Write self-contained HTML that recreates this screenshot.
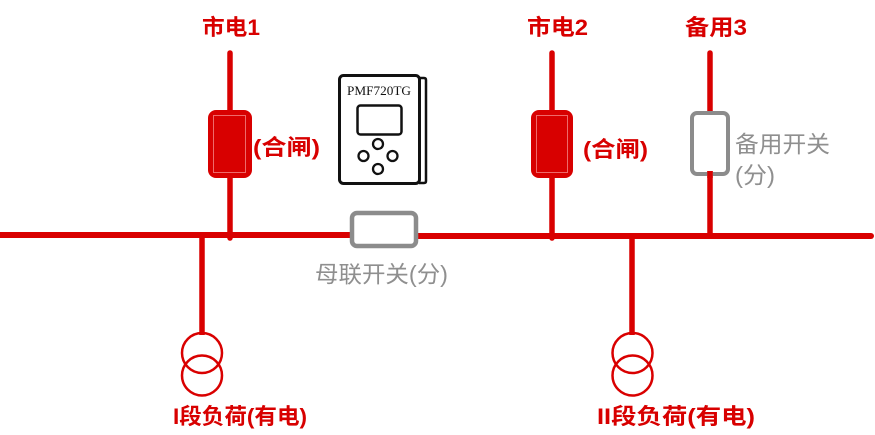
<!DOCTYPE html>
<html>
<head>
<meta charset="utf-8">
<style>
html,body{margin:0;padding:0;background:#fff;}
svg{display:block;}
.r{font-family:"Liberation Sans","Noto Sans CJK SC",sans-serif;font-weight:bold;fill:#d80000;font-size:22px;}
.g{font-family:"Liberation Sans","Noto Sans CJK SC",sans-serif;font-weight:normal;fill:#8f8f8f;font-size:23px;}
</style>
</head>
<body>
<svg width="875" height="435" viewBox="0 0 875 435" xmlns="http://www.w3.org/2000/svg">
  <!-- bus bars -->
  <line x1="0" y1="235" x2="354" y2="235" stroke="#d90000" stroke-width="6"/>
  <line x1="417" y1="236" x2="871" y2="236" stroke="#d90000" stroke-width="6" stroke-linecap="round"/>

  <!-- feeder verticals -->
  <line x1="230" y1="53" x2="230" y2="238" stroke="#d90000" stroke-width="5.5" stroke-linecap="round"/>
  <line x1="552" y1="53" x2="552" y2="238" stroke="#d90000" stroke-width="5.5" stroke-linecap="round"/>
  <line x1="710" y1="53" x2="710" y2="112" stroke="#d90000" stroke-width="5.5" stroke-linecap="round"/>
  <line x1="710" y1="171" x2="710" y2="238" stroke="#d90000" stroke-width="5.5"/>

  <!-- load branches -->
  <line x1="202" y1="236" x2="202" y2="335" stroke="#d90000" stroke-width="5.5"/>
  <line x1="632" y1="237" x2="632" y2="335" stroke="#d90000" stroke-width="5.5"/>

  <!-- transformers -->
  <circle cx="202" cy="353" r="20" fill="none" stroke="#d90000" stroke-width="2.5"/>
  <circle cx="202" cy="375.5" r="20" fill="none" stroke="#d90000" stroke-width="2.5"/>
  <circle cx="632.5" cy="353" r="20" fill="none" stroke="#d90000" stroke-width="2.5"/>
  <circle cx="632.5" cy="375.5" r="20" fill="none" stroke="#d90000" stroke-width="2.5"/>

  <!-- breakers (closed, red) -->
  <rect x="208" y="110" width="44" height="68" rx="8" fill="#d80000"/>
  <rect x="213.5" y="115.5" width="32" height="57" fill="none" stroke="#ee6a6a" stroke-width="1"/>
  <rect x="531" y="110" width="42" height="68" rx="8" fill="#d80000"/>
  <rect x="536.5" y="115.5" width="31" height="57" fill="none" stroke="#ee6a6a" stroke-width="1"/>

  <!-- standby switch (open, gray) -->
  <rect x="692" y="113" width="36" height="61" rx="5" fill="none" stroke="#8c8c8c" stroke-width="4"/>
  <line x1="710" y1="171" x2="710" y2="178" stroke="#d90000" stroke-width="5.5"/>

  <!-- bus coupler (open, gray) -->
  <rect x="352" y="213" width="64" height="33" rx="5" fill="#fff" stroke="#8c8c8c" stroke-width="4.5"/>

  <!-- PMF720TG device -->
  <path d="M419 78 L424 78 Q426 78 426 80 L426 181 Q426 183 424 183 L419 183" fill="none" stroke="#111" stroke-width="2.5"/>
  <rect x="339.5" y="75.5" width="80" height="108" rx="4" fill="#fff" stroke="#111" stroke-width="3"/>
  <text x="347" y="95" font-family="Liberation Serif, serif" font-size="13" fill="#111" textLength="64" lengthAdjust="spacingAndGlyphs">PMF720TG</text>
  <rect x="357.5" y="105.5" width="44" height="29" rx="3" fill="none" stroke="#111" stroke-width="2.5"/>
  <circle cx="378" cy="144" r="5" fill="none" stroke="#111" stroke-width="2.3"/>
  <circle cx="363.5" cy="156" r="5" fill="none" stroke="#111" stroke-width="2.3"/>
  <circle cx="392.5" cy="156" r="5" fill="none" stroke="#111" stroke-width="2.3"/>
  <circle cx="378" cy="169" r="5" fill="none" stroke="#111" stroke-width="2.3"/>

  <!-- labels -->
  <text class="r" x="202" y="35" textLength="58" lengthAdjust="spacingAndGlyphs">市电1</text>
  <text class="r" x="527" y="35" textLength="61" lengthAdjust="spacingAndGlyphs">市电2</text>
  <text class="r" x="685" y="35" textLength="62" lengthAdjust="spacingAndGlyphs">备用3</text>
  <text class="r" x="253" y="155" textLength="67" lengthAdjust="spacingAndGlyphs">(合闸)</text>
  <text class="r" x="583" y="157" textLength="65" lengthAdjust="spacingAndGlyphs">(合闸)</text>
  <text class="g" x="735" y="152" textLength="95" lengthAdjust="spacingAndGlyphs">备用开关</text>
  <text class="g" x="735" y="183" textLength="40" lengthAdjust="spacingAndGlyphs">(分)</text>
  <text class="g" x="315" y="282" textLength="133" lengthAdjust="spacingAndGlyphs">母联开关(分)</text>
  <text class="r" x="173" y="424" textLength="134" lengthAdjust="spacingAndGlyphs">I段负荷(有电)</text>
  <text class="r" x="597" y="424" textLength="158" lengthAdjust="spacingAndGlyphs">II段负荷(有电)</text>
</svg>
</body>
</html>
